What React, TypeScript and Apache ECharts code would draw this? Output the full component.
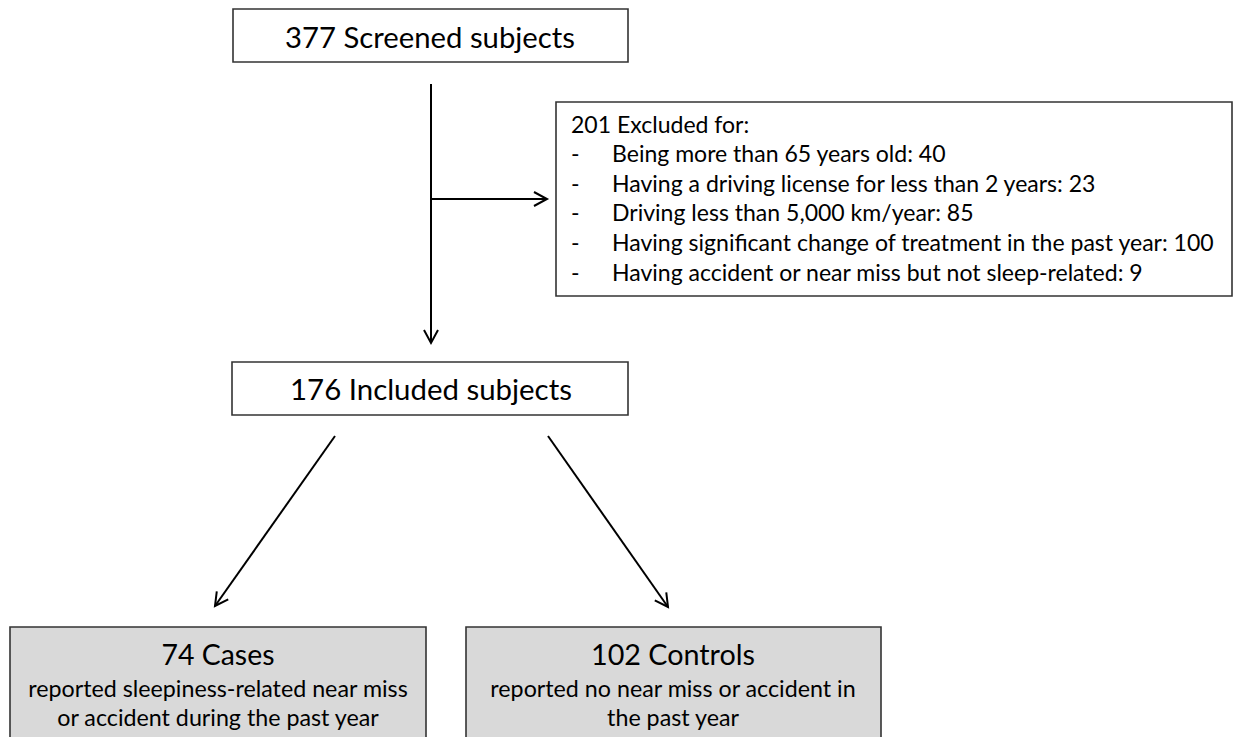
import React, { useEffect, useRef } from "react";
import * as echarts from "echarts";

// ---- data ----
const screenedCount = 377;
const screenedLabel = "Screened subjects";
const excludedCount = 201;
const excludedLabel = "Excluded for:";
const exclusionReasons = [
  "Being more than 65 years old",
  "Having a driving license for less than 2 years",
  "Driving less than 5,000 km/year",
  "Having significant change of treatment in the past year",
  "Having accident or near miss but not sleep-related",
];
const exclusionCounts = [40, 23, 85, 100, 9];
const includedCount = 176;
const includedLabel = "Included subjects";
const groupCounts = [74, 102];
const groupNames = ["Cases", "Controls"];
const groupDescriptions = [
  ["reported sleepiness-related near miss", "or accident during the past year"],
  ["reported no near miss or accident in", "the past year"],
];

const FONT = "Lato";

function measure(text: string): number {
  const c = document.createElement("canvas");
  const ctx = c.getContext("2d")!;
  ctx.font = `100px ${FONT}`;
  return ctx.measureText(text).width / 100;
}
function fit(text: string, target: number): number {
  return target / measure(text);
}

function arrow(x1: number, y1: number, x2: number, y2: number, len = 13, half = 7) {
  const dx = x2 - x1;
  const dy = y2 - y1;
  const d = Math.sqrt(dx * dx + dy * dy);
  const ux = dx / d;
  const uy = dy / d;
  const px = -uy;
  const py = ux;
  const bx = x2 - ux * len;
  const by = y2 - uy * len;
  return [
    {
      type: "line",
      shape: { x1, y1, x2, y2 },
      style: { stroke: "#000", lineWidth: 2 },
    },
    {
      type: "polyline",
      shape: {
        points: [
          [bx + px * half, by + py * half],
          [x2, y2],
          [bx - px * half, by - py * half],
        ],
      },
      style: { stroke: "#000", lineWidth: 2, fill: null },
    },
  ];
}

function text(t: string, x: number, y: number, size: number, align = "center") {
  return {
    type: "text",
    x,
    y,
    style: {
      text: t,
      fontFamily: FONT,
      fontSize: size,
      fill: "#000",
      align,
      verticalAlign: "middle",
    },
  };
}

function rect(x: number, y: number, w: number, h: number, fill: string) {
  return {
    type: "rect",
    shape: { x, y, width: w, height: h },
    style: { fill, stroke: "#333", lineWidth: 1.6 },
  };
}

export default function App() {
  const ref = useRef<HTMLDivElement>(null);
  useEffect(() => {
    if (!ref.current) return;
    const chart = echarts.init(ref.current, null, { renderer: "svg" });

    const t1 = `${screenedCount} ${screenedLabel}`;
    const t2 = `${includedCount} ${includedLabel}`;
    const exLines = [
      `${excludedCount} ${excludedLabel}`,
      ...exclusionReasons.map((r, i) => `${r}: ${exclusionCounts[i]}`),
    ];
    const exSize = fit(exLines[4], 603);
    const groupTitles = groupCounts.map((c, i) => `${c} ${groupNames[i]}`);
    const subSize = fit(groupDescriptions[0][0], 380);
    const groupCenters = [218, 673];
    const groupBoxes = [
      [10, 416],
      [466, 415],
    ];
    const titleTargets = [113, 164];

    const elements: any[] = [];
    // top box
    elements.push(rect(233, 9, 395, 53, "#fff"));
    elements.push(text(t1, 430, 36, fit(t1, 290)));
    // vertical arrow
    elements.push(...arrow(431, 84, 431, 343));
    // branch to exclusion
    elements.push(...arrow(431, 199, 547, 199));
    // exclusion box
    elements.push(rect(556, 102, 676, 194, "#fff"));
    exLines.forEach((l, i) => {
      const y = 123.5 + i * 29.6;
      if (i === 0) {
        elements.push(text(l, 571, y, exSize, "left"));
      } else {
        elements.push(text("-", 571, y, exSize, "left"));
        elements.push(text(l, 612, y, exSize, "left"));
      }
    });
    // included box
    elements.push(rect(232, 362, 396, 53, "#fff"));
    elements.push(text(t2, 431, 388.5, fit(t2, 282)));
    // diagonal arrows
    elements.push(...arrow(335, 436, 215, 606));
    elements.push(...arrow(548, 436, 668, 607));
    // bottom boxes
    groupBoxes.forEach(([x, w], i) => {
      elements.push(rect(x, 627, w, 130, "#d9d9d9"));
      elements.push(text(groupTitles[i], groupCenters[i], 653.5, fit(groupTitles[i], titleTargets[i])));
      elements.push(text(groupDescriptions[i][0], groupCenters[i], 687.5, subSize));
      elements.push(text(groupDescriptions[i][1], groupCenters[i], 717, subSize));
    });

    chart.setOption({
      animation: false,
      backgroundColor: "#fff",
      graphic: { elements },
    });
    return () => chart.dispose();
  }, []);
  return (
    <div
      ref={ref}
      style={{ position: "fixed", left: 0, top: 0, width: 1233, height: 737, background: "#fff" }}
    />
  );
}
